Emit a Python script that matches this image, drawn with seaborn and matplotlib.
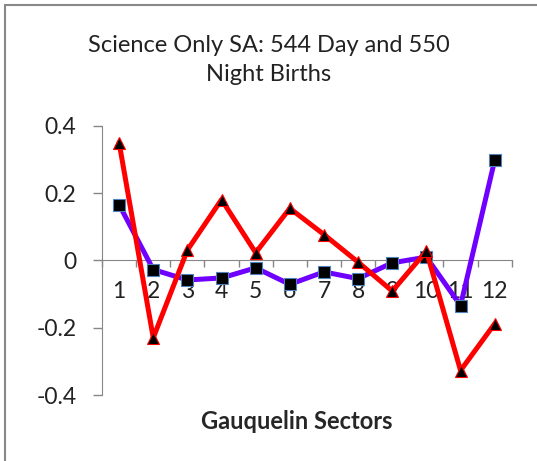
import numpy as np
import pandas as pd
import matplotlib
matplotlib.use("Agg")
import matplotlib.pyplot as plt
import seaborn as sns
from matplotlib.patches import Rectangle

sectors = list(range(1, 13))
day_vals = [0.166, -0.027, -0.058, -0.052, -0.022, -0.071,
            -0.034, -0.054, -0.007, 0.010, -0.134, 0.298]
night_vals = [0.350, -0.230, 0.031, 0.181, 0.023, 0.155,
              0.077, -0.005, -0.091, 0.028, -0.327, -0.188]
y_ticks = [-0.4, -0.2, 0, 0.2, 0.4]
y_labels = ["-0.4", "-0.2", "0", "0.2", "0.4"]

df_day = pd.DataFrame({"sector": sectors, "value": day_vals})
df_night = pd.DataFrame({"sector": sectors, "value": night_vals})

sns.set_style("white")
plt.rcParams["font.family"] = ["Lato", "DejaVu Sans"]

fig = plt.figure(figsize=(5.37, 4.61), dpi=100)
ax = fig.add_axes([0.190, 0.143, 0.763, 0.584])

sns.lineplot(data=df_day, x="sector", y="value", ax=ax, color="#6f00ff",
             linewidth=3.6, marker="s", markersize=8,
             markerfacecolor="black", markeredgecolor="#4f81bd",
             markeredgewidth=0.8, zorder=3)
sns.lineplot(data=df_night, x="sector", y="value", ax=ax, color="#ff0000",
             linewidth=3.6, marker="^", markersize=8,
             markerfacecolor="black", markeredgecolor="#ff0000",
             markeredgewidth=0.8, zorder=4)

ax.set_xlim(0.5, 12.5)
ax.set_ylim(-0.4, 0.4)

for s in ["top", "right"]:
    ax.spines[s].set_visible(False)
ax.spines["left"].set_color("#868686")
ax.spines["bottom"].set_color("#868686")
ax.spines["bottom"].set_position(("data", 0))

ax.set_yticks(y_ticks)
ax.set_yticklabels(y_labels)
ax.tick_params(axis="y", direction="out", length=6.5, width=1,
               color="#868686", pad=12, labelsize=16.5, labelcolor="#222222",
               left=True)

ax.set_xticks(sectors)
ax.set_xticklabels([str(s) for s in sectors])
ax.set_xticks(np.arange(0.5, 13, 1), minor=True)
ax.tick_params(axis="x", which="major", length=0, pad=15, labelsize=16.5,
               labelcolor="#222222")
ax.tick_params(axis="x", which="minor", direction="out", length=5,
               width=1, color="#868686", bottom=True)

ax.set_xlabel("Gauquelin Sectors", fontsize=17, fontweight="bold",
              labelpad=0)
ax.xaxis.set_label_coords(0.476, -0.055)
ax.set_ylabel("")
ax.grid(False)

fig.text(0.5, 0.925, "Science Only SA: 544 Day and 550\nNight Births",
         ha="center", va="top", fontsize=17, linespacing=1.5,
         color="#222222")

fig.patches.append(Rectangle((5 / 537, -0.1), 1.2, 1 - 5 / 461 + 0.1,
                             transform=fig.transFigure, fill=False,
                             edgecolor="#888888", linewidth=1.5))

fig.savefig("out.png", dpi=100)
